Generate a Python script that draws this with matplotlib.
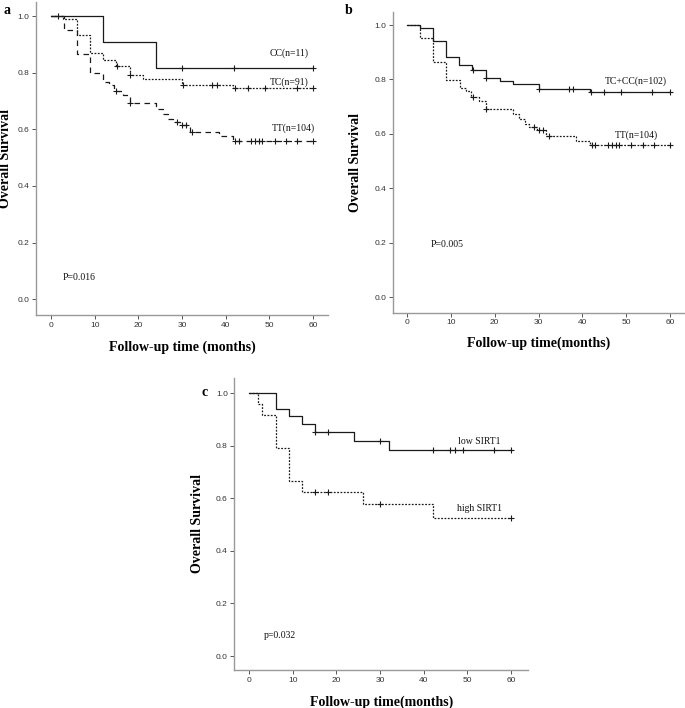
import numpy as np
import matplotlib
matplotlib.use('Agg')
import matplotlib.pyplot as plt

plt.rcParams['lines.scale_dashes'] = False

# ---------------- data ----------------
# panel a : CC / TC / TT genotypes
cc_t = [0, 12, 24]
cc_s = [1.0, 0.909, 0.818]
cc_cens = [30, 42, 60]

tc_t = [0, 2.8, 5.9, 8.9, 12.0, 15.0, 18.1, 21.1, 30.1, 41.7]
tc_s = [1.0, 0.989, 0.934, 0.868, 0.846, 0.825, 0.792, 0.779, 0.758, 0.746]
tc_cens = [15.1, 18.2, 30.2, 36.8, 37.9, 42.1, 45.1, 49.0, 56.2, 60]

tt_t = [0, 2.9, 5.9, 8.9, 12.0, 13.4, 14.5, 16.4, 18.0, 24.1, 25.6, 26.8, 27.9,
        29.6, 31.8, 38.5, 41.7]
tt_s = [1.0, 0.951, 0.865, 0.799, 0.769, 0.756, 0.736, 0.721, 0.692, 0.673,
        0.654, 0.638, 0.625, 0.615, 0.591, 0.575, 0.560]
tt_cens = [1.7, 15.0, 18.1, 28.9, 30.1, 31.0, 32.3, 42.1, 43.0, 45.8, 46.7,
           47.6, 48.4, 51.2, 53.8, 56.3, 60]

# panel b : TC+CC vs TT
tccc_t = [0, 2.9, 5.9, 8.9, 11.9, 14.9, 18.0, 21.1, 24.1, 30.0, 41.7]
tccc_s = [1.0, 0.990, 0.941, 0.882, 0.853, 0.834, 0.805, 0.793, 0.783, 0.764, 0.753]
tccc_cens = [15.0, 18.1, 30.1, 37.0, 37.9, 42.0, 45.0, 48.9, 56.0, 60]

# panel c : SIRT1 expression
low_t = [0, 6.1, 9.1, 12.1, 15.1, 24.1, 32.1]
low_s = [1.0, 0.941, 0.912, 0.882, 0.853, 0.818, 0.784]
low_cens = [15.2, 18.0, 30.0, 42.1, 46.0, 47.2, 49.1, 56.2, 60]

high_t = [0, 2.0, 2.9, 6.1, 9.1, 12.1, 26.0, 42.1]
high_s = [1.0, 0.958, 0.917, 0.792, 0.667, 0.625, 0.577, 0.525]
high_cens = [15.1, 18.0, 30.0, 60]

x_ticks = [0, 10, 20, 30, 40, 50, 60]
y_ticks = [0.0, 0.2, 0.4, 0.6, 0.8, 1.0]

SOLID = '-'
DOTTED = (0, (1.3, 1.1))
DASHED = (0, (4.0, 3.2))
LINE_C = '#1a1a1a'


def km(ax, t, s, cens, ls, t_end=60):
    tt = list(t) + [t_end]
    ss = list(s) + [s[-1]]
    ax.step(tt, ss, where='post', color=LINE_C, lw=0.9, ls=ls)
    t_arr = np.array(t)
    cs = [s[np.searchsorted(t_arr, c, side='right') - 1] for c in cens]
    ax.plot(cens, cs, ls='none', marker='+', ms=5, mew=0.8, color=LINE_C)


def style(ax, xlim, ylim, xlab, ylab_x, xlab_y):
    ax.set_xlim(*xlim)
    ax.set_ylim(*ylim)
    for sp in ['top', 'right']:
        ax.spines[sp].set_visible(False)
    for sp in ['left', 'bottom']:
        ax.spines[sp].set_color('#999999')
        ax.spines[sp].set_linewidth(1.0)
    ax.set_xticks(x_ticks)
    ax.set_yticks(y_ticks)
    ax.set_yticklabels(['%.1f' % v for v in y_ticks])
    ax.tick_params(length=2.7, width=0.7, color='#555555', labelsize=6,
                   labelcolor='#333333', pad=2)
    for lab in ax.get_xticklabels() + ax.get_yticklabels():
        lab.set_family('Liberation Sans')
    ax.set_xlabel(xlab, family='Liberation Serif', weight='bold', fontsize=10,
                  va='center')
    ax.set_ylabel('Overall Survival', family='Liberation Serif', weight='bold',
                  fontsize=10, va='center')
    ax.xaxis.set_label_coords(0.5, xlab_y)
    ax.yaxis.set_label_coords(ylab_x, 0.5)


def note(ax, x, y, txt):
    ax.text(x, y, txt, family='Liberation Serif', fontsize=7, va='center',
            ha='left', color='#111111')


fig = plt.figure(figsize=(6.85, 7.08), dpi=100)

ax_a = fig.add_axes([0.0526, 0.5551, 0.4263, 0.4421])
ax_b = fig.add_axes([0.5733, 0.5583, 0.4252, 0.4248])
ax_c = fig.add_axes([0.3420, 0.0537, 0.4288, 0.4124])

# panel a
km(ax_a, cc_t, cc_s, cc_cens, SOLID)
km(ax_a, tc_t, tc_s, tc_cens, DOTTED)
km(ax_a, tt_t, tt_s, tt_cens, DASHED)
style(ax_a, (-3.4, 63.4), (-0.056, 1.05), 'Follow-up time (months)', -0.106, -0.102)
note(ax_a, 50.1, 0.868, 'CC(n=11)')
note(ax_a, 50.1, 0.768, 'TC(n=91)')
note(ax_a, 50.5, 0.603, 'TT(n=104)')
note(ax_a, 2.7, 0.078, 'P=0.016')

# panel b
km(ax_b, tccc_t, tccc_s, tccc_cens, SOLID)
km(ax_b, tt_t, tt_s, tt_cens[1:], DOTTED)
style(ax_b, (-3.3, 63.2), (-0.057, 1.048), 'Follow-up time(months)', -0.129, -0.101)
note(ax_b, 45.1, 0.795, 'TC+CC(n=102)')
note(ax_b, 47.4, 0.596, 'TT(n=104)')
note(ax_b, 5.4, 0.192, 'P=0.005')

# panel c
km(ax_c, low_t, low_s, low_cens, SOLID)
km(ax_c, high_t, high_s, high_cens, DOTTED)
style(ax_c, (-3.4, 63.9), (-0.053, 1.058), 'Follow-up time(months)', -0.124, -0.109)
note(ax_c, 47.9, 0.818, 'low SIRT1')
note(ax_c, 47.6, 0.563, 'high SIRT1')
note(ax_c, 3.4, 0.080, 'p=0.032')

# panel letters
for x, y, letter in [(4, 10, 'a'), (345, 10, 'b'), (202, 393, 'c')]:
    fig.text(x / 685, 1 - y / 708, letter, family='Liberation Serif',
             weight='bold', fontsize=10, va='center', ha='left')

fig.savefig('out.png', dpi=100)
